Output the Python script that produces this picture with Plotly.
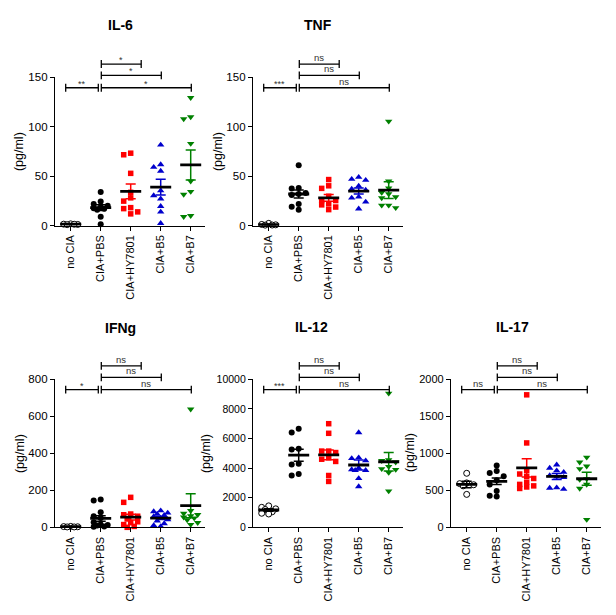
import plotly.graph_objects as go

W, H = 616, 615
FONT = "Arial, Liberation Sans, sans-serif"

categories = ["no CIA", "CIA+PBS", "CIA+HY7801", "CIA+B5", "CIA+B7"]
group_colors = ["#000000", "#000000", "#FF0000", "#0000CC", "#008000"]
group_symbols = ["circle", "circle", "square", "triangle-up", "triangle-down"]
group_sizes = [6, 6, 5.5, 6.5, 6.5]

# ---------------- IL-6 ----------------
il6_no_cia = [1.8, 1.5, 1.2, 1.0, 1.4]
il6_pbs = [34, 24.5, 22, 20, 18.5, 17.5, 17, 16, 9, 1.5]
il6_hy7801 = [73.3, 71.7, 52.9, 33.7, 28.1, 24.8, 18.2, 17.2, 13.9, 11.9]
il6_b5 = [81.6, 61.8, 59.1, 55.2, 35.3, 30.4, 27.1, 19.5, 13.9, 2.3]
il6_b7 = [129.5, 110, 108, 83, 45, 34.5, 31.5, 10, 9]
il6_mean = [1.5, 18.2, 34.7, 39.0, 61.4]
il6_sem = [0.3, 3.0, 7.5, 8.0, 15.2]
il6_sig = ["**", "*", "*", "*"]

# ---------------- TNF ----------------
tnf_no_cia = [2.3, 1.2, 0.8, 0.5, 0.6]
tnf_pbs = [61, 38, 37.5, 33, 32, 31, 22, 19, 16]
tnf_hy7801 = [46.6, 40.3, 37.7, 29.7, 25.4, 25.4, 22, 21, 18.8, 16.2]
tnf_b5 = [49, 47, 46, 40, 37, 36, 29, 28, 24, 17]
tnf_b7 = [105.5, 45, 38, 33.5, 32, 29, 28, 20.5, 20.5, 18]
tnf_mean = [1.0, 32.0, 28.1, 35.0, 36.0]
tnf_sem = [0.3, 4.0, 3.5, 3.0, 8.5]
tnf_sig = ["***", "ns", "ns", "ns"]

# ---------------- IFNg ----------------
ifng_no_cia = [5, 4, 3, 2, 2]
ifng_pbs = [150, 145, 82, 60, 50, 28, 15, 12, 10, 5, 3]
ifng_hy7801 = [162, 135, 72, 68, 60, 45, 30, 25, 15, 5, 0]
ifng_b5 = [90, 85, 78, 72, 65, 58, 50, 42, 35, 20, 10, 5]
ifng_b7 = [638, 90, 75, 68, 62, 55, 50, 40, 25, 15]
ifng_mean = [3, 48, 55, 50, 117]
ifng_sem = [1, 15, 16, 8, 65]
ifng_sig = ["*", "ns", "ns", "ns"]

# ---------------- IL-12 ----------------
il12_no_cia = [1450, 1350, 1250, 1200, 1050, 950, 900]
il12_pbs = [6650, 6400, 5300, 5250, 4300, 4250, 3600, 3500]
il12_hy7801 = [7000, 6350, 5150, 5150, 5050, 4700, 4600, 4450, 3500, 3100]
il12_b5 = [6400, 4700, 4650, 4500, 4000, 3900, 3850, 3850, 3300, 2750]
il12_b7 = [9050, 4550, 4500, 4400, 4100, 3950, 3900, 3700, 2450]
il12_mean = [1170, 4870, 4890, 4210, 4430]
il12_sem = [80, 400, 330, 330, 620]
il12_sig = ["***", "ns", "ns", "ns"]

# ---------------- IL-17 ----------------
il17_no_cia = [730, 600, 590, 575, 560, 445]
il17_pbs = [835, 760, 735, 690, 635, 580, 490, 425, 415]
il17_hy7801 = [1790, 1140, 770, 720, 690, 660, 610, 580, 560, 545, 525]
il17_b5 = [845, 800, 765, 745, 700, 680, 675, 535, 530, 515]
il17_b7 = [945, 880, 825, 790, 655, 645, 580, 525, 105]
il17_mean = [580, 621, 802, 687, 656]
il17_sem = [44, 44, 123, 40, 88]
il17_sig = ["ns", "ns", "ns", "ns"]

# comparisons: (group a, group b)
comparisons = [(0, 1), (1, 2), (1, 3), (1, 4)]

# ---------------- layout geometry (pixels) ----------------
panels = [
    dict(title="IL-6", groups=[il6_no_cia, il6_pbs, il6_hy7801, il6_b5, il6_b7],
         mean=il6_mean, sem=il6_sem, sig=il6_sig, ymax=150, dtick=50,
         ax=55, right=205, y0=224, ytop=72.8, tfs=11.5,
         tpos=(120, 19.5), ytpos=(19, 149)),
    dict(title="TNF", groups=[tnf_no_cia, tnf_pbs, tnf_hy7801, tnf_b5, tnf_b7],
         mean=tnf_mean, sem=tnf_sem, sig=tnf_sig, ymax=150, dtick=50,
         ax=253, right=403, y0=224, ytop=72.8, tfs=11.5,
         tpos=(318, 19.5), ytpos=(218, 149)),
    dict(title="IFNg", groups=[ifng_no_cia, ifng_pbs, ifng_hy7801, ifng_b5, ifng_b7],
         mean=ifng_mean, sem=ifng_sem, sig=ifng_sig, ymax=800, dtick=200,
         ax=55, right=205, y0=531.7, ytop=380.7, tfs=11.5,
         tpos=(120, 328.5), ytpos=(20, 456)),
    dict(title="IL-12", groups=[il12_no_cia, il12_pbs, il12_hy7801, il12_b5, il12_b7],
         mean=il12_mean, sem=il12_sem, sig=il12_sig, ymax=10000, dtick=2000,
         ax=253, right=403, y0=531.7, ytop=380.7, tfs=10.5,
         tpos=(312, 327.5), ytpos=(206, 456)),
    dict(title="IL-17", groups=[il17_no_cia, il17_pbs, il17_hy7801, il17_b5, il17_b7],
         mean=il17_mean, sem=il17_sem, sig=il17_sig, ymax=2000, dtick=500,
         ax=451, right=601, y0=531.7, ytop=380.7, tfs=11,
         tpos=(512, 327.5), ytpos=(410, 456)),
]

CAT_PX = 30.0
FIRST_CAT_OFFSET = 15.7
XR = [-FIRST_CAT_OFFSET / CAT_PX, (150 - FIRST_CAT_OFFSET) / CAT_PX]

# bracket end adjustments (category units) and level, per comparison
bracket_ends = [(-0.167, -0.08), (0.02, 0.35), (0.02, 0.02), (0.02, 0.02)]
bracket_levels = [0, 2, 1, 0]
level_px = {0: 10.6, 1: -2.0, 2: -13.6}


def swarm_offsets(vals, ppu, step_px=7.0, d_px=5.5):
    placed = []
    out = []
    for v in vals:
        y = v * ppu
        choice = None
        for c in (0, -1, 1):
            x = c * step_px
            if all((x - a) ** 2 + (y - b) ** 2 >= d_px ** 2 for a, b in placed):
                choice = x
                break
        if choice is None:
            best = -1
            for c in (0, -0.5, 0.5, -1, 1):
                x = c * step_px
                dmin = min((x - a) ** 2 + (y - b) ** 2 for a, b in placed)
                if dmin > best:
                    best = dmin
                    choice = x
        placed.append((choice, y))
        out.append(choice / CAT_PX)
    return out


fig = go.Figure()
shapes = []
annotations = []

for k, p in enumerate(panels):
    n = k + 1
    xa = "x" if n == 1 else f"x{n}"
    ya = "y" if n == 1 else f"y{n}"
    xkey = "xaxis" if n == 1 else f"xaxis{n}"
    ykey = "yaxis" if n == 1 else f"yaxis{n}"
    ppu = (p["y0"] - p["ytop"]) / p["ymax"]

    # points
    for i, vals in enumerate(p["groups"]):
        offs = swarm_offsets(vals, ppu)
        if i == 0:
            marker = dict(symbol="circle", size=group_sizes[i], color="white",
                          line=dict(color="black", width=1))
        else:
            marker = dict(symbol=group_symbols[i], size=group_sizes[i],
                          color=group_colors[i], line=dict(width=0))
        fig.add_trace(go.Scatter(
            x=[i + o for o in offs], y=vals, mode="markers", marker=marker,
            xaxis=xa, yaxis=ya, cliponaxis=False, showlegend=False, hoverinfo="skip"))

    # SEM error bars
    cap = 0.167
    for i, (m, s) in enumerate(zip(p["mean"], p["sem"])):
        xs = [i, i, None, i - cap, i + cap, None, i - cap, i + cap]
        ys = [m - s, m + s, None, m + s, m + s, None, m - s, m - s]
        fig.add_trace(go.Scatter(
            x=xs, y=ys, mode="lines", line=dict(color=group_colors[i], width=1.5),
            xaxis=xa, yaxis=ya, showlegend=False, hoverinfo="skip"))

    # mean lines
    mx, my = [], []
    for i, m in enumerate(p["mean"]):
        mx += [i - 0.35, i + 0.35, None]
        my += [m, m, None]
    fig.add_trace(go.Scatter(
        x=mx, y=my, mode="lines", line=dict(color="black", width=2.8),
        xaxis=xa, yaxis=ya, showlegend=False, hoverinfo="skip"))

    ytv = list(range(0, p["ymax"] + 1, p["dtick"]))
    # axes
    fig.layout[xkey] = dict(
        domain=[p["ax"] / W, p["right"] / W], range=XR, anchor=ya,
        tickmode="array", tickvals=list(range(len(categories))), ticktext=categories,
        tickangle=-90, ticks="outside", ticklen=4, tickwidth=1.3, tickcolor="black",
        showline=True, linecolor="black", linewidth=1.3, showgrid=False, zeroline=False,
        tickfont=dict(family=FONT, size=11, color="black"), fixedrange=True)
    fig.layout[ykey] = dict(
        domain=[1 - p["y0"] / H, 1 - p["ytop"] / H], range=[0, p["ymax"]], anchor=xa,
        tickmode="array", tickvals=ytv, ticktext=[str(v) for v in ytv],
        ticks="outside", ticklen=4, tickwidth=1.3, tickcolor="black",
        showline=True, linecolor="black", linewidth=1.3, showgrid=False, zeroline=False,
        tickfont=dict(family=FONT, size=p["tfs"], color="black"), fixedrange=True)

    # significance brackets
    for (a, b), (ea, eb), lvl, lab in zip(comparisons, bracket_ends, bracket_levels, p["sig"]):
        py = p["ytop"] + level_px[lvl]
        yp = 1 - py / H
        x0, x1 = a + ea, b + eb
        shapes.append(dict(type="line", xref=xa, yref="paper", x0=x0, x1=x1, y0=yp, y1=yp,
                           line=dict(color="black", width=1.3)))
        for xx in (x0, x1):
            shapes.append(dict(type="line", xref=xa, yref="paper", x0=xx, x1=xx,
                               y0=1 - (py - 4) / H, y1=1 - (py + 4) / H,
                               line=dict(color="black", width=1.3)))
        is_star = lab.startswith("*")
        annotations.append(dict(
            x=(x0 + x1) / 2, y=yp, xref=xa, yref="paper", text=lab, showarrow=False,
            xanchor="center", yanchor="bottom", yshift=-3 if is_star else -1,
            font=dict(family=FONT, size=9 if is_star else 9.5, color="#333333")))

    # titles
    annotations.append(dict(
        x=p["tpos"][0] / W, y=1 - p["tpos"][1] / H, xref="paper", yref="paper",
        text=f"<b>{p['title']}</b>", showarrow=False, xanchor="center", yanchor="middle",
        font=dict(family=FONT, size=14, color="black")))
    annotations.append(dict(
        x=p["ytpos"][0] / W, y=1 - p["ytpos"][1] / H, xref="paper", yref="paper",
        text="(pg/ml)", showarrow=False, xanchor="center", yanchor="middle", textangle=-90,
        font=dict(family=FONT, size=12.5, color="black")))

fig.update_layout(
    width=W, height=H, margin=dict(l=0, r=0, t=0, b=0),
    paper_bgcolor="white", plot_bgcolor="white",
    shapes=shapes, annotations=annotations, showlegend=False,
    font=dict(family=FONT, color="black"),
)

fig.write_html("out.html", config={"displayModeBar": False})
